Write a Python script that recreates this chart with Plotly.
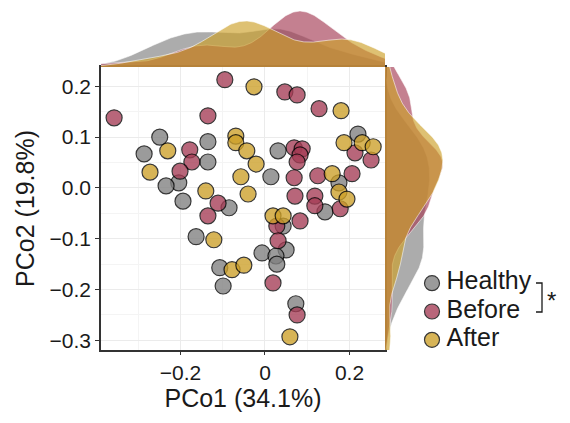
import numpy as np
import plotly.graph_objects as go

# PCoA coordinates
healthy_x = [-0.249, -0.286, -0.135, -0.135, -0.204, -0.234, -0.194, -0.085, -0.163, -0.107, -0.099,
             0.031, 0.014, 0.220, 0.175, 0.142, 0.043, -0.007, 0.050, 0.026, 0.028, 0.073]
healthy_y = [0.100, 0.067, 0.091, 0.051, 0.010, 0.004, -0.026, -0.039, -0.096, -0.157, -0.193,
             0.073, 0.022, 0.106, 0.010, -0.047, -0.075, -0.128, -0.122, -0.134, -0.150, -0.228]

before_x = [-0.357, -0.135, -0.178, -0.173, -0.201, -0.111, -0.135, -0.095, 0.047, 0.076, 0.128,
            0.069, 0.088, 0.083, 0.076, 0.069, 0.125, 0.206, 0.213, 0.251, 0.118, 0.118, 0.178,
            0.071, 0.028, 0.083, 0.031, 0.019, 0.076]
before_y = [0.138, 0.142, 0.075, 0.051, 0.033, -0.030, -0.055, 0.213, 0.189, 0.183, 0.156,
            0.079, 0.077, 0.065, 0.051, 0.020, 0.024, 0.028, 0.069, 0.055, -0.016, -0.035, -0.041,
            -0.016, -0.075, -0.065, -0.104, -0.187, -0.250]

after_x = [-0.230, -0.272, -0.140, -0.069, -0.069, -0.043, -0.057, -0.040, -0.026, 0.180, 0.187,
           0.230, 0.256, -0.021, 0.159, 0.175, 0.194, -0.121, -0.078, -0.050, 0.019, 0.043, 0.059]
after_y = [0.073, 0.031, -0.006, 0.102, 0.089, 0.073, 0.022, -0.012, 0.199, 0.152, 0.089,
           0.089, 0.081, 0.047, 0.028, -0.008, -0.022, -0.102, -0.161, -0.152, -0.055, -0.055, -0.293]

groups = ["Healthy", "Before", "After"]
colors = {"Healthy": (128, 128, 128), "Before": (165, 60, 85), "After": (205, 160, 40)}
data = {"Healthy": (healthy_x, healthy_y), "Before": (before_x, before_y), "After": (after_x, after_y)}

x_range = [-0.388, 0.284]
y_range = [-0.319, 0.238]


def kde(vals, grid):
    # gaussian kernel density, bw like R's bw.nrd0
    v = np.asarray(vals)
    n = len(v)
    sd = v.std(ddof=1)
    iqr = np.subtract(*np.percentile(v, [75, 25]))
    bw = 0.9 * min(sd, iqr / 1.34) * n ** -0.2
    z = (grid[:, None] - v[None, :]) / bw
    return np.exp(-0.5 * z ** 2).sum(1) / (n * bw * np.sqrt(2 * np.pi))


def rgba(c, a):
    return f"rgba({c[0]},{c[1]},{c[2]},{a})"


# the page body has an 8px margin, so lay out in window pixels minus that
OFF = 8
W, H = 570 - OFF, 423 - OFF


def fx(px):
    return (px - OFF) / W


def fy(py):
    return 1 - (py - OFF) / H


fig = go.Figure()

gx = np.linspace(x_range[0], x_range[1], 300)
gy = np.linspace(y_range[0], y_range[1], 300)
max_top, max_right = 0, 0

for g in groups:
    xs, ys = data[g]
    dx = kde(xs, gx)
    dy = kde(ys, gy)
    max_top = max(max_top, dx.max())
    max_right = max(max_right, dy.max())
    fig.add_trace(go.Scatter(x=gx, y=dx, xaxis="x2", yaxis="y2", mode="lines", fill="tozeroy",
                             fillcolor=rgba(colors[g], 0.65), line=dict(color="rgba(255,255,255,0.7)", width=0.8),
                             showlegend=False, hoverinfo="skip"))
    fig.add_trace(go.Scatter(x=dy, y=gy, xaxis="x3", yaxis="y3", mode="lines", fill="tozerox",
                             fillcolor=rgba(colors[g], 0.65), line=dict(color="rgba(255,255,255,0.7)", width=0.8),
                             showlegend=False, hoverinfo="skip"))

for g in groups:
    xs, ys = data[g]
    fig.add_trace(go.Scatter(x=xs, y=ys, mode="markers", name=g, showlegend=False,
                             marker=dict(size=16, color=rgba(colors[g], 1), opacity=0.78,
                                         line=dict(color="black", width=1.2))))

# legend drawn as its own little panel: one key per group on a category axis
for g in groups:
    fig.add_trace(go.Scatter(x=[0], y=[g], xaxis="x4", yaxis="y4", mode="markers",
                             showlegend=False, hoverinfo="skip", cliponaxis=False,
                             marker=dict(size=15, color=rgba(colors[g], 1), opacity=0.78,
                                         line=dict(color="black", width=1.2))))
    fig.add_trace(go.Scatter(x=[0.105], y=[g], xaxis="x4", yaxis="y4", mode="text",
                             text=[g], textposition="middle right", showlegend=False, hoverinfo="skip",
                             cliponaxis=False, textfont=dict(size=25, color="#1a1a1a")))

xd = [fx(101), fx(385)]
yd = [fy(350), fy(67)]
font = "Liberation Sans, Arial, sans-serif"

fig.update_layout(
    width=W, height=H,
    margin=dict(l=0, r=0, t=0, b=0),
    paper_bgcolor="white", plot_bgcolor="white",
    font=dict(family=font, color="#1a1a1a"),
    showlegend=False,
    xaxis=dict(domain=xd, range=x_range, anchor="y", dtick=0.2, tick0=0, showgrid=True, automargin=False,
               gridcolor="#ebebeb", gridwidth=1.3, zeroline=False, showline=True, mirror=True,
               linecolor="#333333", linewidth=1.5, ticks="outside", ticklen=3, tickcolor="#333333",
               tickfont=dict(size=21, color="#1a1a1a"),
               minor=dict(dtick=0.1, tick0=0, showgrid=True, gridcolor="#f4f4f4", gridwidth=0.8, ticks=""),
               title=dict(text="PCo1 (34.1%)", font=dict(size=25, color="#1a1a1a"), standoff=2)),
    yaxis=dict(domain=yd, range=y_range, anchor="x", dtick=0.1, tick0=0, showgrid=True, automargin=False,
               gridcolor="#ebebeb", gridwidth=1.3, zeroline=False, showline=True, mirror=True,
               linecolor="#333333", linewidth=1.5, ticks="outside", ticklen=4, tickcolor="#333333",
               tickfont=dict(size=21, color="#1a1a1a"), tickformat=".1f",
               minor=dict(dtick=0.05, tick0=0, showgrid=True, gridcolor="#f4f4f4", gridwidth=0.8, ticks=""),
               title=dict(text="PCo2 (19.8%)", font=dict(size=25, color="#1a1a1a"), standoff=8)),
    xaxis2=dict(domain=xd, range=x_range, anchor="y2", visible=False, automargin=False),
    yaxis2=dict(domain=[yd[1], fy(10)], range=[0, max_top * 1.02], anchor="x2", visible=False,
                automargin=False),
    xaxis3=dict(domain=[xd[1], fx(444)], range=[0, max_right * 1.02], anchor="y3", visible=False,
                automargin=False),
    yaxis3=dict(domain=yd, range=y_range, anchor="x3", visible=False, automargin=False),
    xaxis4=dict(domain=[fx(432), 1], range=[0, 1], anchor="y4", visible=False, automargin=False),
    yaxis4=dict(domain=[fy(354), fy(269)], type="category", categoryarray=groups,
                range=[2.5, -0.5], anchor="x4", visible=False, automargin=False),
)

# significance bracket between Healthy and Before
fig.add_shape(type="path", xref="paper", yref="paper",
              path=f"M {fx(536)} {fy(283)} L {fx(542)} {fy(283)} L {fx(542)} {fy(312)} L {fx(536)} {fy(312)}",
              line=dict(color="#1a1a1a", width=1.3))
fig.add_annotation(text="*", xref="paper", yref="paper", x=fx(545), y=fy(300), xanchor="left",
                   yanchor="middle", showarrow=False, font=dict(size=24, color="#1a1a1a"))

fig.write_html("out.html")
